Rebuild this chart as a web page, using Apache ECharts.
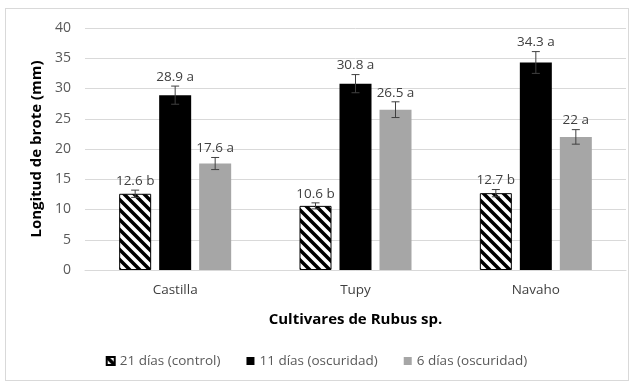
<!DOCTYPE html>
<html>
<head>
<meta charset="utf-8">
<script src="https://cdn.jsdelivr.net/npm/echarts@6/dist/echarts.min.js"></script>
<style>
  html, body { margin: 0; padding: 0; background: #fff; }
  #frame { position: absolute; left: 5px; top: 8px; width: 622px; height: 371px; border: 1px solid #d9d9d9; }
  #chart { width: 633px; height: 385px; position: absolute; left: 0; top: 0; }
</style>
</head>
<body>
<div id="frame"></div>
<div id="chart"></div>
<script>
// data
const categories = ["Castilla", "Tupy", "Navaho"];
const seriesNames = ["21 días (control)", "11 días (oscuridad)", "6 días (oscuridad)"];
const control21 = [12.6, 10.6, 12.7];
const dark11 = [28.9, 30.8, 34.3];
const dark6 = [17.6, 26.5, 22];
const err21 = [0.6, 0.5, 0.6];
const err11 = [1.5, 1.5, 1.8];
const err6 = [1.0, 1.3, 1.2];
const letters21 = ["b", "b", "b"];
const letters11 = ["a", "a", "a"];
const letters6 = ["a", "a", "a"];

// diagonal hatch for the control bars
function hatch() {
  const c = document.createElement("canvas");
  c.width = 10; c.height = 10;
  const g = c.getContext("2d");
  g.fillStyle = "#fff";
  g.fillRect(0, 0, 10, 10);
  g.strokeStyle = "#000";
  g.lineWidth = 3.5;
  g.beginPath();
  g.moveTo(-5, 5); g.lineTo(5, 15);
  g.moveTo(0, 0); g.lineTo(10, 10);
  g.moveTo(5, -5); g.lineTo(15, 5);
  g.stroke();
  return c;
}

const barW = 32;
const step = 40;
const colors = [{ image: hatch(), repeat: "repeat" }, "#000000", "#a6a6a6"];
const values = [control21, dark11, dark6];
const errs = [err21, err11, err6];
const letters = [letters21, letters11, letters6];

const chart = echarts.init(document.getElementById("chart"));

const bars = values.map((v, i) => ({
  name: seriesNames[i],
  type: "bar",
  barWidth: barW,
  barGap: "25%",
  data: v,
  itemStyle: i === 0 ? { color: colors[0], borderColor: "#000", borderWidth: 1 } : { color: colors[i] }
}));

const errSeries = values.map((v, i) => ({
  type: "custom",
  name: "err" + i,
  z: 5,
  data: v.map((val, k) => [k, val, errs[i][k]]),
  renderItem: function (params, api) {
    const k = api.value(0);
    const val = api.value(1);
    const e = api.value(2);
    const off = (i - 1) * step;
    const top = api.coord([k, val + e]);
    const bot = api.coord([k, val - e]);
    const x = top[0] + off;
    const style = { stroke: "#404040", lineWidth: 1 };
    return {
      type: "group",
      children: [
        { type: "line", shape: { x1: x, y1: top[1], x2: x, y2: bot[1] }, style: style },
        { type: "line", shape: { x1: x - 4, y1: top[1], x2: x + 4, y2: top[1] }, style: style },
        { type: "line", shape: { x1: x - 4, y1: bot[1], x2: x + 4, y2: bot[1] }, style: style },
        {
          type: "text",
          style: {
            x: x, y: top[1] - 2,
            text: val + " " + letters[i][k],
            fill: "#404040",
            font: "13.5px 'Open Sans'",
            align: "center",
            verticalAlign: "bottom"
          }
        }
      ]
    };
  }
}));

const option = {
  animation: false,
  textStyle: { fontFamily: "'Open Sans'" },
  grid: { left: 85, right: 7, top: 28, bottom: 115 },
  legend: {
    data: seriesNames,
    bottom: 12,
    left: "center",
    itemWidth: 8,
    itemHeight: 8,
    itemGap: 26,
    icon: "rect",
    textStyle: { color: "#595959", fontSize: 13.5 }
  },
  xAxis: {
    type: "category",
    data: categories,
    name: "Cultivares de Rubus sp.",
    nameLocation: "middle",
    nameGap: 42,
    nameTextStyle: { fontWeight: "bold", fontSize: 15, color: "#000" },
    axisLine: { lineStyle: { color: "#d9d9d9" } },
    axisTick: { show: false },
    axisLabel: { color: "#404040", fontSize: 13.5, margin: 13 }
  },
  yAxis: {
    type: "value",
    min: 0,
    max: 40,
    interval: 5,
    name: "Longitud de brote (mm)",
    nameLocation: "middle",
    nameGap: 36,
    nameTextStyle: { fontWeight: "bold", fontSize: 15, color: "#000" },
    axisLabel: { color: "#595959", fontSize: 14, margin: 14 },
    splitLine: { lineStyle: { color: "#d9d9d9" } }
  },
  series: bars.concat(errSeries)
};

chart.setOption(option);
</script>
</body>
</html>
